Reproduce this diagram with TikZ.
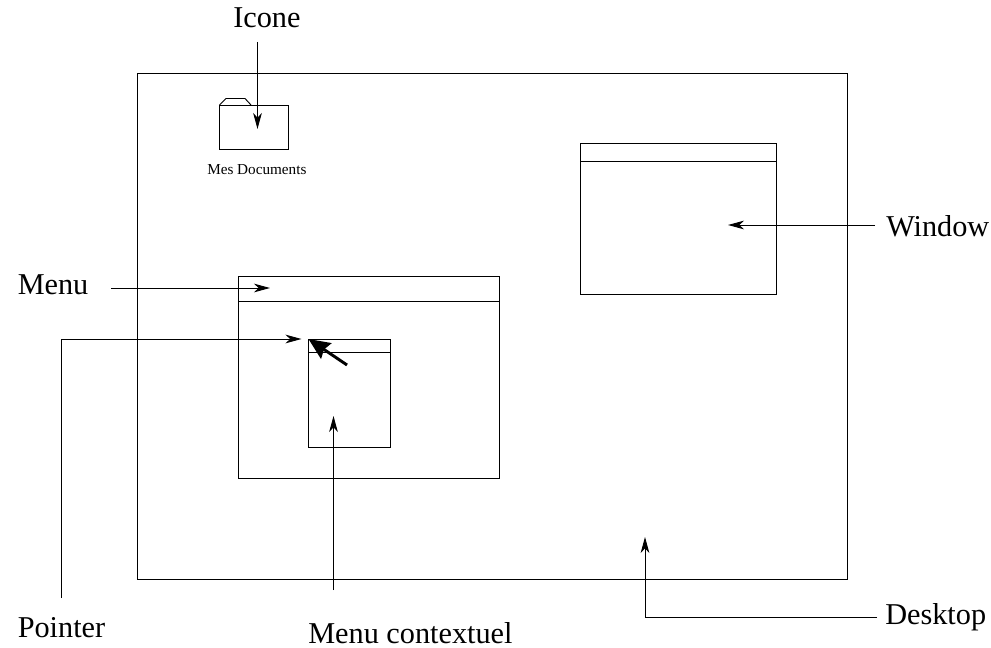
\documentclass[tikz,border=0pt]{standalone}
\usepackage{fontspec}
\setmainfont{Liberation Serif}
\usetikzlibrary{positioning, shapes, arrows.meta}
\tikzset{font=\fontsize{22.7}{24}\selectfont}
\tikzstyle{point}  = [coordinate]
\tikzstyle{block}  = [draw, rectangle, anchor=north west, inner sep=0pt, outer sep=0pt, line width=0.7pt]
\tikzstyle{label}  = [inner sep=0pt, anchor=base west]
\tikzstyle{line}   = [line width=0.7pt, -{Stealth[length=12pt, width=6.5pt, inset=3.5pt]}]

\begin{document}
\begin{tikzpicture}[x=0.75pt, y=-0.75pt]
	\useasboundingbox (0,0) rectangle (991,648);

	% desktop and windows
	\node [block, minimum width=532.5pt, minimum height=379.5pt] (desktop) at (137,73) {};
	\node [block, minimum width=147pt, minimum height=113.25pt] (window) at (580.5,143) {};
	\node [block, minimum width=147pt, minimum height=13.5pt] (windowbar) at (window.north west) {};
	\node [block, minimum width=195.75pt, minimum height=151.5pt] (menubox) at (238.5,276) {};
	\node [block, minimum width=195.75pt, minimum height=18.75pt] (menubar) at (menubox.north west) {};
	\node [block, minimum width=61.5pt, minimum height=81pt] (context) at (308.5,339) {};
	\node [block, minimum width=61.5pt, minimum height=9.75pt] (contextbar) at (context.north west) {};

	% folder
	\node [block, minimum width=52pt, minimum height=33pt] (folder) at (219.5,105) {};
	\draw [line width=0.7pt] (folder.north west) -- ++(6.5,-6.5) -- ++(19,0) -- ++(6,6.5);
	\node [label, font=\fontsize{11.4}{13}\selectfont] (docs) at (207,175) {Mes Documents};

	% labels
	\node [label] (icone) at (233,28) {Icone};
	\node [label] (menu) at (17.5,295) {Menu};
	\node [label] (pointer) at (17.5,637) {Pointer};
	\node [label] (contextuel) at (308,643) {Menu contextuel};
	\node [label] (desk) at (885,624) {Desktop};
	\node [label] (win) at (886,237) {Window};

	% free ends
	\node [point] (iconetop) at (257.5,42) {};
	\node [point] (iconetip) at (257.5,129) {};
	\node [point] (menustart) at (111,288) {};
	\node [point] (menutip) at (270,288) {};
	\node [point] (pointerstart) at (61,598) {};
	\node [point] (pointertip) at (301.5,339) {};
	\node [point] (contextstart) at (333.5,590) {};
	\node [point] (contexttip) at (333.5,416) {};
	\node [point] (deskstart) at (877,617) {};
	\node [point] (desktip) at (645,537) {};
	\node [point] (winstart) at (875,225) {};
	\node [point] (wintip) at (728,225) {};
	\node [point] (cursorstart) at (347,365) {};

	\draw [line] (iconetop) -- (iconetip);
	\draw [line] (menustart) -- (menutip);
	\draw [line] (pointerstart) |- (pointertip);
	\draw [line] (contextstart) -- (contexttip);
	\draw [line] (deskstart) -| (desktip);
	\draw [line] (winstart) -- (wintip);
	\draw [-{Stealth[length=16pt, width=14pt, inset=2pt]}, line width=2.2pt] (cursorstart) -- (context.north west);
\end{tikzpicture}
\end{document}
